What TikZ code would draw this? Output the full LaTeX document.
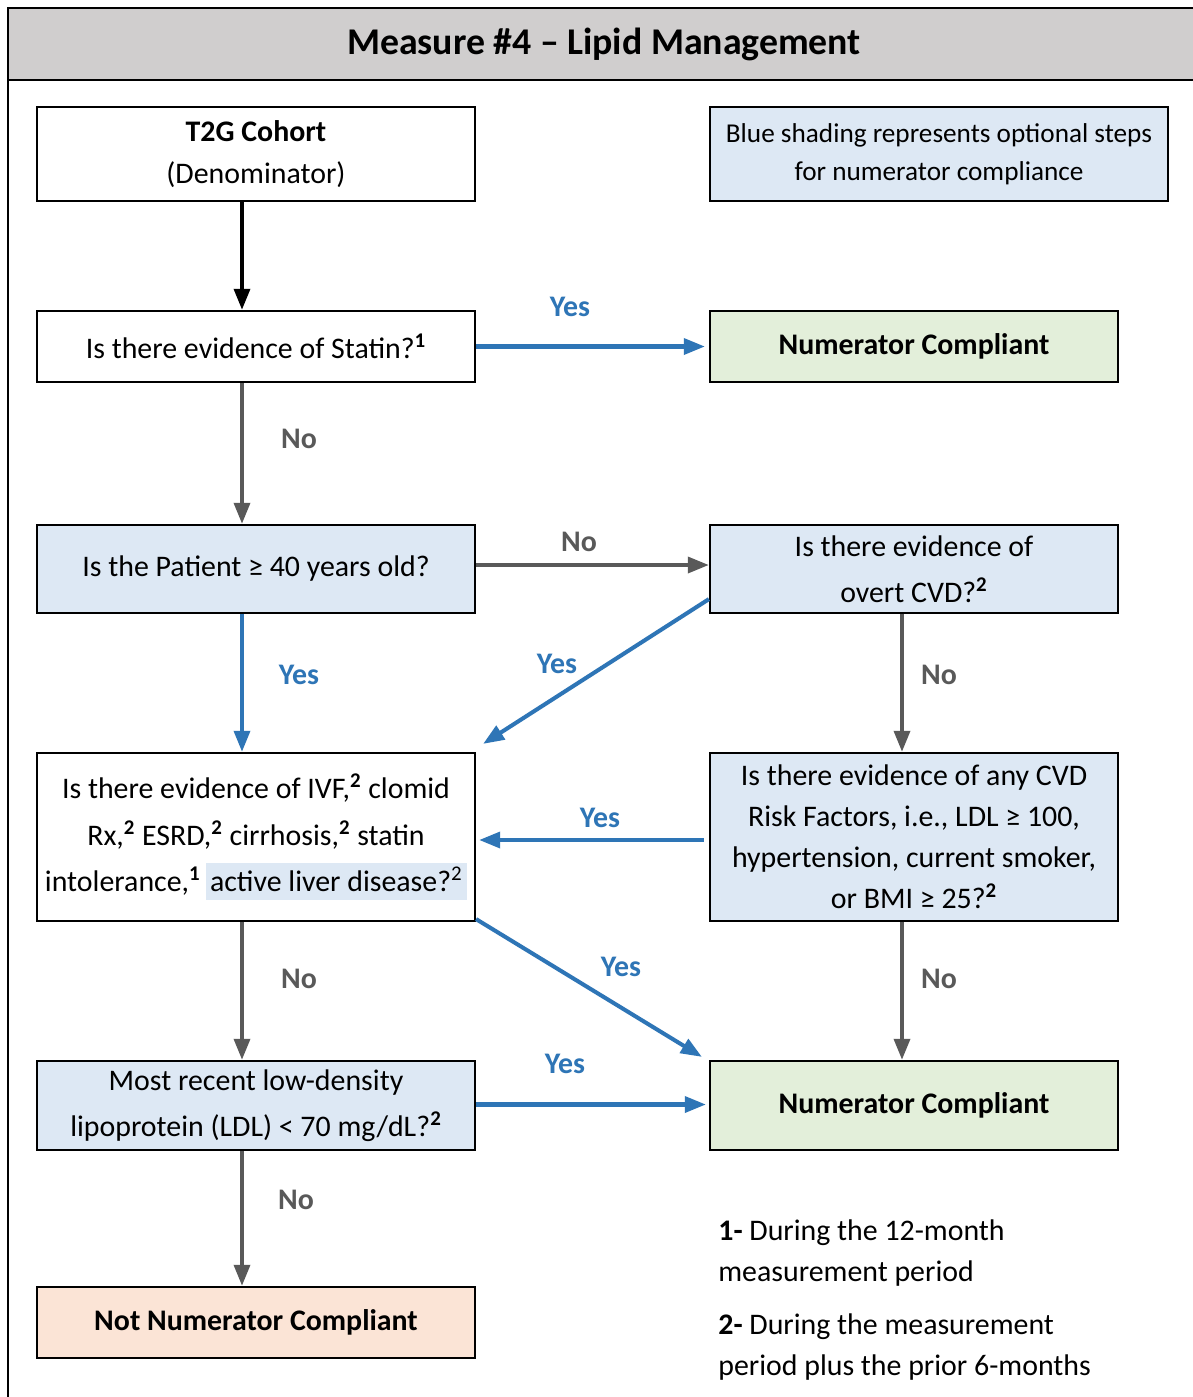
\documentclass[tikz,border=0pt]{standalone}
\usepackage{fontspec}
\setmainfont{Carlito}
\usetikzlibrary{arrows.meta,calc}
\definecolor{titlegray}{HTML}{D0CECE}
\definecolor{bluefill}{HTML}{DDE8F4}
\definecolor{greenfill}{HTML}{E3EFDA}
\definecolor{peachfill}{HTML}{FBE4D6}
\definecolor{arrblue}{HTML}{2E75B6}
\definecolor{arrgray}{HTML}{595959}
\newcommand{\supb}[1]{\textsuperscript{\textbf{#1}}}
\begin{document}
\begin{tikzpicture}[x=0.02cm,y=-0.02cm,
  box/.style={draw=black, line width=1.3pt, align=center, inner sep=0pt},
  lcol/.style={box, minimum width=8.76cm},
  rcol/.style={box, minimum width=8.16cm},
  arr/.style={line width=2.3pt, -{Triangle[length=12pt,width=9pt]}},
  blarr/.style={arr, draw=arrblue},
  grarr/.style={arr, draw=arrgray},
  bkarr/.style={arr, draw=black},
  ylbl/.style={text=arrblue, font=\bfseries\fontsize{17}{20}\selectfont},
  nlbl/.style={text=arrgray, font=\bfseries\fontsize{17}{20}\selectfont}]
\clip (0,0) rectangle (1193,1397);
\fill[white] (0,0) rectangle (1193,1397);
\fill[titlegray] (8,8) rectangle (1210,80);
\draw[line width=1.3pt] (8,80) -- (1210,80);
\draw[line width=1.3pt] (8,1420) -- (8,8) -- (1210,8);
\node[font=\bfseries\fontsize{21.5}{26}\selectfont] (title) at (604,44) {Measure \#4 – Lipid Management};

% boxes
\node[lcol, minimum height=1.88cm, font=\fontsize{17}{23.6}\selectfont] (t2g) at (256,154) {\textbf{T2G Cohort}\\(Denominator)};
\node[box, fill=bluefill, minimum width=9.16cm, minimum height=1.88cm, font=\fontsize{15.5}{21.5}\selectfont] (legend) at (939,154) {Blue shading represents optional steps\\for numerator compliance};
\node[lcol, minimum height=1.42cm, font=\fontsize{17}{24}\selectfont] (statin) at (256,346.5) {Is there evidence of Statin?\supb{1}};
\node[rcol, fill=greenfill, minimum height=1.42cm, font=\bfseries\fontsize{17}{24}\selectfont] (nc1) at (914,346.5) {Numerator Compliant};
\node[lcol, fill=bluefill, minimum height=1.76cm, font=\fontsize{17}{24}\selectfont] (age) at (256,569) {Is the Patient ≥ 40 years old?};
\node[rcol, fill=bluefill, minimum height=1.76cm, font=\fontsize{17}{26}\selectfont] (cvd) at (914,569) {Is there evidence of\\overt CVD?\supb{2}};
\node[lcol, minimum height=3.36cm, font=\fontsize{17}{26.6}\selectfont] (ivf) at (256,837) {Is there evidence of IVF,\supb{2} clomid\\Rx,\supb{2} ESRD,\supb{2} cirrhosis,\supb{2} statin\\intolerance,\supb{1}\,{\setlength{\fboxsep}{2.5pt}\colorbox{bluefill}{\vphantom{(}active liver disease?\textsuperscript{2}}}};
\node[rcol, fill=bluefill, minimum height=3.36cm, font=\fontsize{17}{23.4}\selectfont] (risk) at (914,837) {Is there evidence of any CVD\\Risk Factors, i.e., LDL ≥ 100,\\hypertension, current smoker,\\or BMI ≥ 25?\supb{2}};
\node[lcol, fill=bluefill, minimum height=1.78cm, font=\fontsize{17}{26}\selectfont] (ldl) at (256,1105.5) {Most recent low-density\\lipoprotein (LDL) < 70 mg/dL?\supb{2}};
\node[rcol, fill=greenfill, minimum height=1.78cm, font=\bfseries\fontsize{17}{24}\selectfont] (nc2) at (914,1105.5) {Numerator Compliant};
\node[lcol, fill=peachfill, minimum height=1.42cm, font=\bfseries\fontsize{17}{24}\selectfont] (notnc) at (256,1322.5) {Not Numerator Compliant};

% footnotes
\node[anchor=west, align=left, inner sep=0pt, font=\fontsize{17}{23.8}\selectfont] (fn1) at (718,1253) {\textbf{1-} During the 12-month\\measurement period};
\node[anchor=west, align=left, inner sep=0pt, font=\fontsize{17}{23.8}\selectfont] (fn2) at (718,1347) {\textbf{2-} During the measurement\\period plus the prior 6-months};

% column coordinates
\coordinate (lx) at (242,0);
\coordinate (rx) at (902,0);

% connectors
\draw[bkarr] (t2g.south -| lx) -- (statin.north -| lx);
\draw[blarr] (statin.east) -- ($(nc1.west)+(-4,0)$);
\draw[grarr] (statin.south -| lx) -- (age.north -| lx);
\draw[grarr] ($(age.east)+(0,-4)$) -- ($(cvd.west)+(0,-4)$);
\draw[blarr] (age.south -| lx) -- (ivf.north -| lx);
\draw[blarr] ($(cvd.south west)+(0,-15)$) -- ($(ivf.north east)+(7,-8)$);
\draw[grarr] (cvd.south -| rx) -- (risk.north -| rx);
\draw[blarr] ($(risk.west)+(-5,3)$) -- ($(ivf.east)+(3,3)$);
\draw[blarr] ($(ivf.south east)+(0,-3)$) -- ($(nc2.north west)+(-7,-3)$);
\draw[grarr] (ivf.south -| lx) -- (ldl.north -| lx);
\draw[grarr] (risk.south -| rx) -- (nc2.north -| rx);
\draw[blarr] ($(ldl.east)+(0,-1)$) -- ($(nc2.west)+(-3,-1)$);
\draw[grarr] (ldl.south -| lx) -- (notnc.north -| lx);

% labels
\node[ylbl] (l1) at (570,307) {Yes};
\node[nlbl] (l2) at (299,439) {No};
\node[nlbl] (l3) at (579,542) {No};
\node[ylbl] (l4) at (299,675) {Yes};
\node[ylbl] (l5) at (557,664) {Yes};
\node[nlbl] (l6) at (939,675) {No};
\node[ylbl] (l7) at (600,818) {Yes};
\node[ylbl] (l8) at (621,967) {Yes};
\node[nlbl] (l9) at (299,979) {No};
\node[nlbl] (l10) at (939,979) {No};
\node[ylbl] (l11) at (565,1064) {Yes};
\node[nlbl] (l12) at (296,1200) {No};
\end{tikzpicture}
\end{document}
